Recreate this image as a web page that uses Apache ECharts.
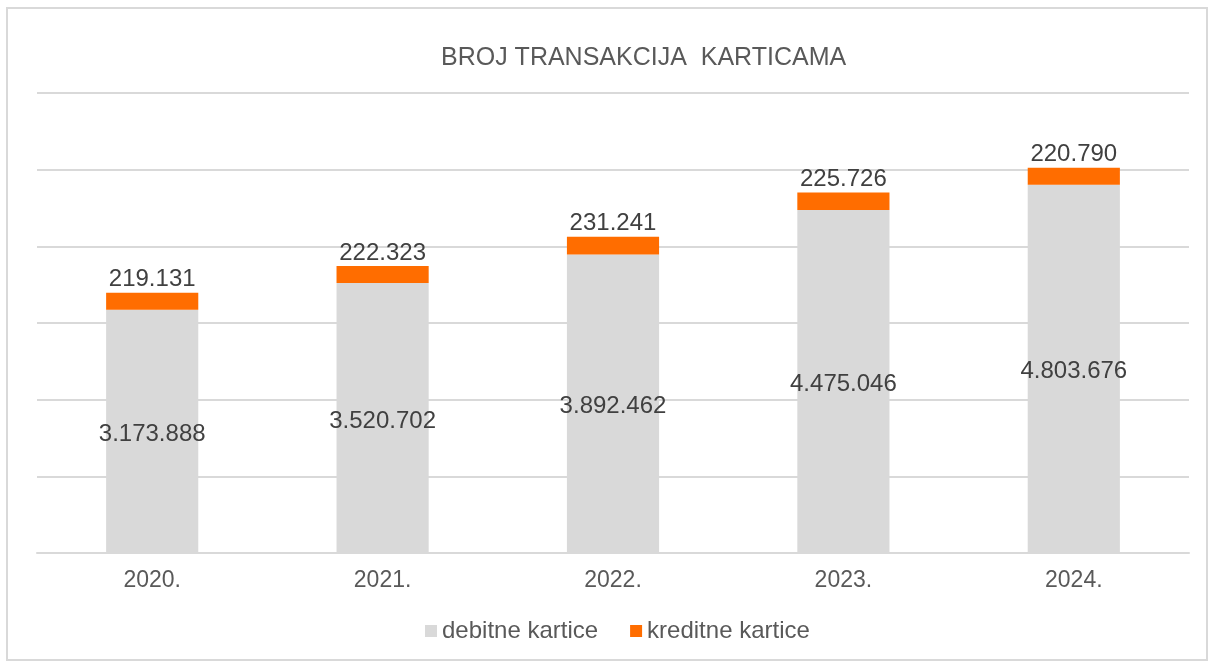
<!DOCTYPE html>
<html>
<head>
<meta charset="utf-8">
<script src="https://cdn.jsdelivr.net/npm/echarts@6/dist/echarts.min.js"></script>
<style>
  html, body { margin: 0; padding: 0; background: #fff; }
  #chart { width: 1217px; height: 666px; }
</style>
</head>
<body>
<div id="chart"></div>
<script>
const years = ["2020.", "2021.", "2022.", "2023.", "2024."];
const debitne = [3173888, 3520702, 3892462, 4475046, 4803676];
const kreditne = [219131, 222323, 231241, 225726, 220790];

const fmt = (v) => String(v).replace(/\B(?=(\d{3})+(?!\d))/g, ".");

const chart = echarts.init(document.getElementById("chart"));
chart.setOption({
  animation: false,
  textStyle: { fontFamily: "Liberation Sans, Arial, sans-serif" },
  graphic: [
    {
      type: "rect",
      shape: { x: 7, y: 8, width: 1200, height: 652 },
      style: { fill: "none", stroke: "#d9d9d9", lineWidth: 2 },
      silent: true,
    },
  ],
  title: {
    text: "BROJ TRANSAKCIJA  KARTICAMA",
    left: 436,
    top: 41,
    textStyle: { fontSize: 25, fontWeight: "normal", color: "#595959" },
  },
  legend: {
    bottom: 18,
    left: 420,
    itemWidth: 12,
    itemHeight: 12,
    itemGap: 32,
    icon: "rect",
    textStyle: { fontSize: 24, color: "#595959" },
    data: ["debitne kartice", "kreditne kartice"],
  },
  grid: { left: 37, right: 28, top: 93, bottom: 113 },
  xAxis: {
    type: "category",
    data: years,
    axisLine: { lineStyle: { color: "#d9d9d9", width: 2 } },
    axisTick: { show: false },
    axisLabel: { fontSize: 23, color: "#595959", margin: 16 },
  },
  yAxis: {
    type: "value",
    min: 0,
    max: 6000000,
    interval: 1000000,
    axisLabel: { show: false },
    axisLine: { show: false },
    axisTick: { show: false },
    splitLine: { lineStyle: { color: "#d9d9d9", width: 2 } },
  },
  series: [
    {
      name: "debitne kartice",
      type: "bar",
      stack: "t",
      data: debitne,
      barWidth: "40%",
      itemStyle: { color: "#d9d9d9" },
      label: {
        show: true,
        position: "inside",
        offset: [0, 3],
        fontSize: 24,
        color: "#404040",
        formatter: (p) => fmt(p.value),
      },
    },
    {
      name: "kreditne kartice",
      type: "bar",
      stack: "t",
      data: kreditne,
      barWidth: "40%",
      itemStyle: { color: "#ff6d00" },
      label: {
        show: true,
        position: "top",
        distance: 1,
        fontSize: 24,
        color: "#404040",
        formatter: (p) => fmt(p.value),
      },
    },
  ],
});
</script>
</body>
</html>
